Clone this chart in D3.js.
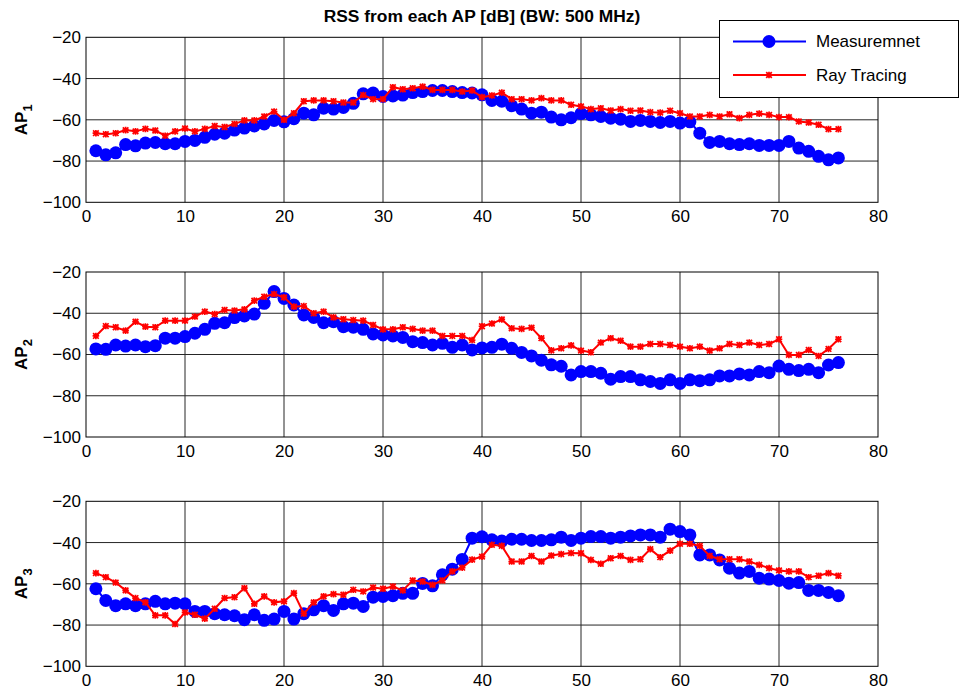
<!DOCTYPE html>
<html>
<head>
<meta charset="utf-8">
<script src="https://cdn.jsdelivr.net/npm/d3@7"></script>
<style>
  body { margin: 0; background: #fff; }
  svg { font-family: "Liberation Sans", Arial, sans-serif; }
</style>
</head>
<body>
<svg id="chart" width="961" height="690"></svg>
<script>
// measurement point index (1..76)
const points = d3.range(1, 77)

const ap1Meas = [-75,-77,-76,-72,-72.6,-71.3,-71,-71.6,-71.6,-70.5,
  -70,-68.5,-67,-66.5,-65,-64,-63,-62,-60.3,-61,
  -59.5,-56.8,-57.6,-54.4,-54.8,-54,-52,-47.4,-47,-48.7,
  -48.4,-48,-46.8,-46.3,-45.8,-45.8,-46.3,-46.8,-47,-47.9,
  -50.6,-51,-53.2,-54.8,-56.8,-56.3,-58.7,-60,-59,-57,
  -57.6,-58.4,-59.2,-59.7,-60.8,-60.3,-60.8,-61.3,-60.8,-61.6,
  -61,-66.5,-71,-70.5,-71.6,-72,-71.6,-72.4,-72.4,-72.4,
  -70.5,-73.7,-75.3,-77.7,-79.4,-78.5]
const ap1Ray = [-66.5,-67,-66.5,-65,-65.6,-64.4,-65.2,-67.7,-65.6,-64.2,
  -65.6,-64.4,-63,-63.5,-62,-60.3,-60.3,-58.4,-56,-60,
  -56.8,-51,-50.6,-50.6,-51,-51.6,-51.6,-48,-50,-50,
  -44.2,-45.2,-44.7,-43.9,-45.5,-45.5,-45.5,-46.3,-45.8,-49,
  -48.2,-46.8,-50,-50,-50.6,-49.5,-50.6,-50.6,-52.7,-53.5,
  -54.8,-54.4,-55.5,-54.8,-55.6,-55.5,-56.3,-56.5,-55.6,-56.8,
  -58.4,-58.4,-57.6,-58.4,-57.3,-59.2,-57.6,-57,-57.6,-58.7,
  -58.7,-60.8,-61.3,-62.4,-64.5,-64.5]

const ap2Meas = [-57.3,-57.5,-55.4,-55.9,-55.4,-56.2,-55.7,-52.1,-52.1,-51.3,
  -49.7,-47.8,-44.9,-44.6,-42.1,-41.3,-40.4,-35.2,-29.5,-32.8,
  -36,-40.8,-42,-44.6,-44.1,-46.5,-46.8,-47.8,-50,-50.5,
  -51,-51.7,-53.8,-54.2,-55.4,-54.6,-56.5,-55.4,-57.8,-56.8,
  -56.5,-55,-57,-59,-60.7,-62.8,-65,-65.7,-69.9,-68.3,
  -68.3,-69.1,-72,-70.7,-70.7,-72.3,-73.1,-74,-72.3,-74,
  -72.3,-72.7,-72.3,-70.4,-70.4,-69.4,-69.9,-68.3,-68.8,-65.6,
  -67.2,-67.8,-67.2,-68.8,-65.1,-63.9]
const ap2Ray = [-51,-46.2,-46.8,-48.4,-44.1,-46.5,-46.8,-43.6,-43.6,-43.6,
  -41.6,-39.2,-40.4,-38.4,-38.7,-38.1,-33.9,-32,-30.7,-32.3,
  -36.8,-36.5,-40,-39.2,-42,-42.9,-43.3,-43.6,-45.7,-47.8,
  -47.8,-46.8,-47.6,-48.4,-48.4,-51,-51,-51,-53,-46.3,
  -45,-43,-47.3,-47.6,-47,-52.1,-58,-57,-55.6,-58.1,
  -58.9,-54.2,-52.1,-53.3,-56.2,-56.2,-54.9,-54.9,-55.4,-56.2,
  -57,-56.2,-58.1,-57,-54.9,-55.4,-54.2,-55.4,-54.9,-52.6,
  -60.2,-60.2,-57.8,-60.7,-57.3,-52.6]

const ap3Meas = [-62.4,-68.1,-70.6,-69.7,-70.6,-69.7,-68.5,-69.7,-69.4,-69.7,
  -73.4,-73.4,-74.5,-75,-75.5,-77.4,-75,-77.7,-77.1,-73.4,
  -77.1,-74.5,-72.6,-70.6,-72.9,-69.7,-69.4,-71,-66.5,-66.1,
  -65.8,-64.6,-64.6,-59.8,-61,-55.6,-52.9,-48.2,-37.9,-37.2,
  -38.7,-39.3,-38.4,-38.4,-39,-39,-38.7,-37.4,-39,-37.9,
  -37.1,-37.1,-37.9,-37.4,-36.8,-36.3,-36.3,-37.4,-33.5,-34.7,
  -36.3,-46,-46,-48.4,-52.4,-54.8,-54,-57.3,-57.7,-58.4,
  -59.7,-59.4,-63.2,-63.2,-64.2,-65.8]
const ap3Ray = [-54.8,-56.8,-59.4,-63.2,-66.9,-69,-75.3,-75.3,-79.5,-73.9,
  -75,-76.9,-72.1,-66.9,-66.5,-62.1,-69.7,-66.1,-69,-68.5,
  -64.5,-74.5,-69,-66.1,-65,-65.3,-62.9,-63.7,-61.8,-62.4,
  -61.3,-63.2,-58.4,-58.9,-60.5,-58.4,-54,-52.2,-48.3,-46.8,
  -41.1,-41.6,-49.2,-49.2,-46.5,-49.2,-46.3,-45.6,-45.1,-45.2,
  -48.4,-50.3,-47.6,-46.5,-48.4,-48.1,-43.2,-47.1,-43.9,-40.6,
  -40.6,-41.6,-46.5,-48.1,-48.1,-48.1,-49.2,-50.8,-52.4,-53.5,
  -54,-54,-56.8,-56.1,-54.8,-56.1]

const panelLabels = ['1', '2', '3']
const measSeries = [ap1Meas, ap2Meas, ap3Meas]
const raySeries = [ap1Ray, ap2Ray, ap3Ray]
const xTicks = [0, 10, 20, 30, 40, 50, 60, 70, 80]
const yTicks = [-100, -80, -60, -40, -20]
const legendNames = ['Measuremnet', 'Ray Tracing']
const titleText = 'RSS from each AP [dB] (BW: 500 MHz)'

const left = 86, right = 878
const panelTops = [37.3, 272, 501.3]
const panelH = 165

const svg = d3.select('#chart')
svg.append('rect').attr('width', 961).attr('height', 690).attr('fill', '#fff')

const xScale = d3.scaleLinear().domain([0, 80]).range([left, right])

const starPath = (s) => `M${-s},${-s}L${s},${s}M${-s},${s}L${s},${-s}M0,${-s - 0.5}L0,${s + 0.5}M${-s - 0.5},0L${s + 0.5},0`

panelTops.forEach((top, i) => {
  const yScale = d3.scaleLinear().domain([-100, -20]).range([top + panelH, top])
  const g = svg.append('g').attr('class', 'panel')

  // grid
  g.append('g').selectAll('line.vg')
    .data(xTicks.slice(1, -1))
    .join('line')
      .attr('x1', d => xScale(d)).attr('x2', d => xScale(d))
      .attr('y1', top).attr('y2', top + panelH)
      .attr('stroke', '#262626').attr('stroke-width', 1)
  g.append('g').selectAll('line.hg')
    .data(yTicks.slice(1, -1))
    .join('line')
      .attr('x1', left).attr('x2', right)
      .attr('y1', d => yScale(d)).attr('y2', d => yScale(d))
      .attr('stroke', '#262626').attr('stroke-width', 1)

  // axes (labels only, box drawn below)
  g.append('g')
    .attr('transform', `translate(0, ${top + panelH})`)
    .call(d3.axisBottom(xScale).tickValues(xTicks).tickSize(0).tickPadding(8))
    .call(a => a.select('.domain').remove())
    .selectAll('text')
      .attr('font-size', 17).attr('fill', '#000')
      .attr('font-family', '"Liberation Sans", Arial, sans-serif')
  g.append('g')
    .attr('transform', `translate(${left}, 0)`)
    .call(d3.axisLeft(yScale).tickValues(yTicks).tickSize(0).tickPadding(5))
    .call(a => a.select('.domain').remove())
    .selectAll('text')
      .attr('font-size', 17).attr('fill', '#000')
      .attr('font-family', '"Liberation Sans", Arial, sans-serif')

  g.append('rect')
    .attr('x', left).attr('y', top)
    .attr('width', right - left).attr('height', panelH)
    .attr('fill', 'none').attr('stroke', '#000').attr('stroke-width', 1)

  // measurement series
  const meas = points.map((p, k) => [p, measSeries[i][k]])
  const ray = points.map((p, k) => [p, raySeries[i][k]])
  const line = d3.line().x(d => xScale(d[0])).y(d => yScale(d[1]))

  g.append('path')
    .attr('d', line(meas))
    .attr('fill', 'none').attr('stroke', '#0000ff').attr('stroke-width', 2)
  g.append('g').selectAll('circle')
    .data(meas)
    .join('circle')
      .attr('cx', d => xScale(d[0])).attr('cy', d => yScale(d[1]))
      .attr('r', 6.5).attr('fill', '#0000ff')

  g.append('path')
    .attr('d', line(ray))
    .attr('fill', 'none').attr('stroke', '#ff0000').attr('stroke-width', 2)
  g.append('g').selectAll('path.star')
    .data(ray)
    .join('path')
      .attr('transform', d => `translate(${xScale(d[0])}, ${yScale(d[1])})`)
      .attr('d', starPath(2.8))
      .attr('fill', 'none').attr('stroke', '#ff0000').attr('stroke-width', 1.7)

  // y label AP_n
  const lab = svg.append('text')
    .attr('transform', `translate(27, ${top + panelH / 2}) rotate(-90)`)
    .attr('text-anchor', 'middle')
    .attr('font-weight', 'bold').attr('font-size', 17)
  lab.append('tspan').text('AP')
  lab.append('tspan').attr('dy', 5).attr('font-size', 13).text(panelLabels[i])
})

svg.append('text')
  .attr('x', (left + right) / 2).attr('y', 22)
  .attr('text-anchor', 'middle')
  .attr('font-weight', 'bold').attr('font-size', 17.4)
  .text(titleText)

// legend
const legend = svg.append('g').attr('class', 'legend')
legend.append('rect')
  .attr('x', 719.5).attr('y', 20.5).attr('width', 239).attr('height', 77)
  .attr('fill', '#fff').attr('stroke', '#000').attr('stroke-width', 1)
const legendY = [41.5, 75]
legend.append('line')
  .attr('x1', 733).attr('x2', 806).attr('y1', legendY[0]).attr('y2', legendY[0])
  .attr('stroke', '#0000ff').attr('stroke-width', 2)
legend.append('circle').attr('cx', 769).attr('cy', legendY[0]).attr('r', 6.5).attr('fill', '#0000ff')
legend.append('line')
  .attr('x1', 733).attr('x2', 806).attr('y1', legendY[1]).attr('y2', legendY[1])
  .attr('stroke', '#ff0000').attr('stroke-width', 2)
legend.append('path')
  .attr('transform', `translate(769, ${legendY[1]})`)
  .attr('d', starPath(2.8))
  .attr('fill', 'none').attr('stroke', '#ff0000').attr('stroke-width', 1.7)
legend.selectAll('text.lt')
  .data(legendNames)
  .join('text')
    .attr('x', 816).attr('y', (d, k) => legendY[k])
    .attr('dy', '0.35em')
    .attr('font-size', 17)
    .text(d => d)
</script>
</body>
</html>
